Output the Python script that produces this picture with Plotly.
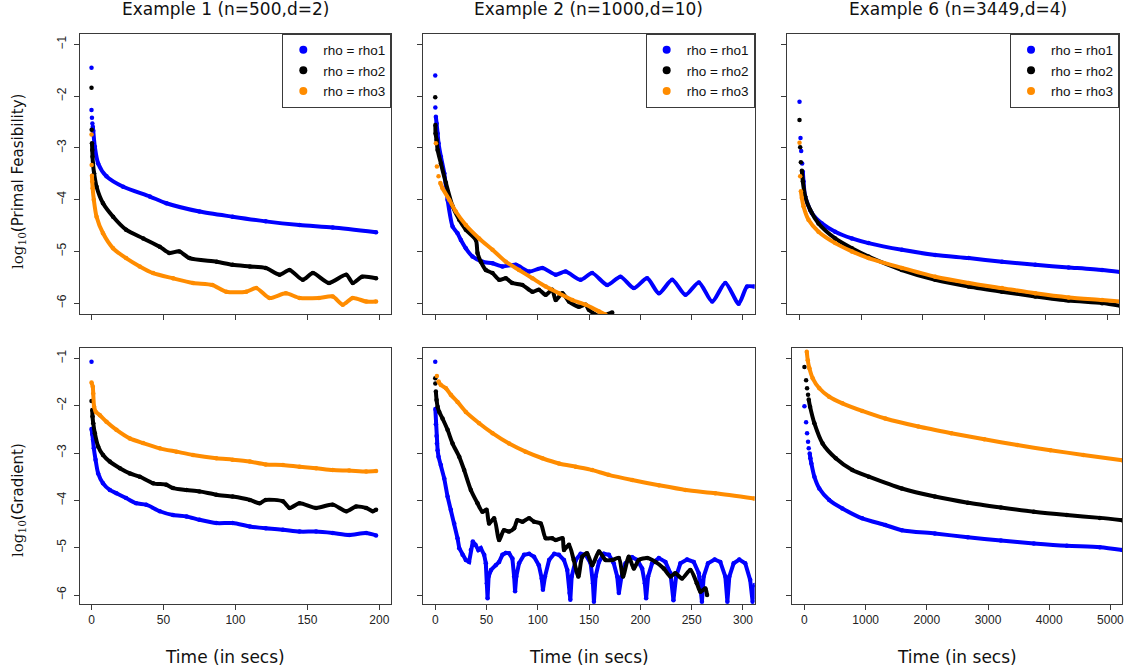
import plotly.graph_objects as go

# ---------------- data ----------------
SERIES = ["rho1", "rho2", "rho3"]
SERIES_LABELS = ["rho = rho1", "rho = rho2", "rho = rho3"]
COLORS = ["#0000FF", "#000000", "#FF8C00"]

PANEL_TITLES = ["Example 1 (n=500,d=2)", "Example 2 (n=1000,d=10)", "Example 6 (n=3449,d=4)"]
ROW_TITLES = ["Primal Feasibility", "Gradient"]
X_TITLE = "Time (in secs)"

Y_TICKS = [-1, -2, -3, -4, -5, -6]
X_TICKS_EX1 = [0, 50, 100, 150, 200]
X_TICKS_EX2 = [0, 50, 100, 150, 200, 250, 300]
X_TICKS_EX6 = [0, 1000, 2000, 3000, 4000, 5000]

# ---- Example 1, primal feasibility
ex1_pf_rho1_t = [0, 0, 0.3, 0.6, 0.9, 1.2, 2.3, 4.6, 10.4, 22, 40.5, 52, 75, 98, 121, 144.5, 167.6, 197.7]
ex1_pf_rho1_v = [-1.45, -2.27, -2.42, -2.53, -2.59, -2.67, -2.98, -3.30, -3.55, -3.75, -3.94, -4.07, -4.23, -4.33, -4.42, -4.49, -4.54, -4.63]
ex1_pf_rho2_t = [0, 0.1, 0.3, 0.5, 0.7, 1.0, 1.8, 3.5, 8, 15, 24, 36, 47.4, 54, 61, 68, 87, 98, 110, 121, 130.6, 137.6, 146.8, 153.8, 165, 177, 181.5, 188, 197.7]
ex1_pf_rho2_v = [-1.84, -2.65, -2.91, -3.04, -3.17, -3.30, -3.49, -3.75, -4.07, -4.33, -4.58, -4.75, -4.91, -5.03, -5.00, -5.13, -5.20, -5.26, -5.29, -5.32, -5.45, -5.36, -5.55, -5.42, -5.61, -5.45, -5.61, -5.49, -5.52]
ex1_pf_rho3_t = [0, 0.1, 0.3, 0.5, 0.8, 1.6, 3.5, 8, 15, 24, 33.5, 42.8, 56.6, 70.5, 84, 93.6, 107.5, 114.5, 123.7, 135, 144.5, 158, 167.6, 174.6, 181.5, 190.8, 197.7]
ex1_pf_rho3_v = [-2.74, -3.33, -3.54, -3.65, -3.78, -4.00, -4.33, -4.65, -4.94, -5.13, -5.29, -5.42, -5.52, -5.61, -5.65, -5.78, -5.78, -5.71, -5.90, -5.81, -5.90, -5.90, -5.87, -6.03, -5.90, -5.97, -5.97]

# ---- Example 2, primal feasibility
ex2_pf_rho1_t = [0, 0.1, 0.6, 1.3, 2.3, 3.2, 5.5, 8.8, 12, 16.9, 21.7, 25, 29.8, 36.3, 46, 55.8, 65.5, 78.5, 91.5, 104.4, 117.4, 127, 141.7, 153, 167.7, 180.6, 193.6, 206.6, 218, 231, 244, 257, 270, 282.8, 295.8, 304, 311]
ex2_pf_rho1_v = [-1.60, -2.22, -2.40, -2.53, -2.72, -2.91, -3.17, -3.49, -4.00, -4.52, -4.65, -4.78, -4.94, -5.10, -5.20, -5.23, -5.29, -5.26, -5.39, -5.32, -5.45, -5.39, -5.55, -5.42, -5.65, -5.49, -5.71, -5.52, -5.81, -5.55, -5.84, -5.60, -5.97, -5.61, -6.01, -5.68, -5.68]
ex2_pf_rho2_t = [0, 0.1, 0.3, 1.3, 2.3, 5.5, 10.4, 16.9, 23.4, 29.8, 39.6, 41.2, 44.4, 49.3, 55.8, 62.3, 68.8, 75, 85, 94.7, 101, 107.7, 114, 117.4, 123.9, 130.4, 140, 146.6, 149.8, 160, 172.5]
ex2_pf_rho2_v = [-2.02, -2.56, -2.72, -2.85, -3.04, -3.30, -3.68, -4.13, -4.39, -4.58, -4.78, -5.03, -5.20, -5.36, -5.42, -5.55, -5.52, -5.61, -5.65, -5.78, -5.74, -5.84, -5.74, -5.94, -5.81, -5.97, -6.07, -6.03, -6.13, -6.25, -6.18]
ex2_pf_rho3_t = [0.6, 1.6, 3.2, 4.9, 7.1, 13.6, 20, 29.8, 42.8, 55.8, 68.8, 81.7, 94.7, 107.7, 120.6, 133.6, 146.6, 159.6, 166]
ex2_pf_rho3_v = [-2.91, -3.36, -3.55, -3.68, -3.78, -4.00, -4.23, -4.49, -4.75, -4.97, -5.20, -5.36, -5.52, -5.68, -5.81, -5.94, -6.03, -6.16, -6.22]

# ---- Example 6, primal feasibility
ex6_pf_rho1_t = [0, 16, 27, 43, 54, 65, 92, 200, 363, 580, 851, 1122, 1665, 2207, 2750, 3292, 3834, 4376, 4919, 5217]
ex6_pf_rho1_v = [-2.11, -2.81, -3.06, -3.30, -3.46, -3.65, -3.94, -4.26, -4.46, -4.62, -4.75, -4.84, -4.97, -5.07, -5.13, -5.20, -5.26, -5.31, -5.36, -5.40]
ex6_pf_rho2_t = [0, 11, 22, 38, 54, 92, 174, 309, 580, 851, 1122, 1665, 2207, 2750, 3292, 3834, 4376, 4919, 5217]
ex6_pf_rho2_v = [-2.46, -2.99, -3.28, -3.44, -3.65, -3.94, -4.20, -4.46, -4.75, -4.94, -5.10, -5.36, -5.55, -5.68, -5.78, -5.87, -5.95, -6.00, -6.05]
ex6_pf_rho3_t = [0, 11, 22, 38, 65, 146, 309, 580, 851, 1122, 1665, 2207, 2750, 3292, 3834, 4376, 4919, 5217]
ex6_pf_rho3_v = [-2.90, -3.55, -3.84, -3.97, -4.13, -4.39, -4.62, -4.84, -5.00, -5.13, -5.32, -5.49, -5.61, -5.71, -5.81, -5.89, -5.94, -5.97]

# ---- Example 1, gradient
ex1_gr_rho1_t = [0, 0, 0.5, 1.0, 1.6, 2.8, 4.6, 8, 12.7, 17.3, 24, 31, 38, 47.4, 56.6, 66, 75, 86.7, 98, 110, 121, 133, 144.5, 156, 167.6, 179, 190.8, 197.7]
ex1_gr_rho1_v = [-1.07, -2.49, -2.60, -2.72, -2.90, -3.14, -3.43, -3.64, -3.78, -3.85, -3.95, -4.06, -4.09, -4.23, -4.31, -4.34, -4.41, -4.48, -4.48, -4.55, -4.59, -4.62, -4.66, -4.66, -4.69, -4.73, -4.69, -4.74]
ex1_gr_rho2_t = [0, 0.5, 0.7, 1.2, 2.3, 4.6, 8, 12.7, 19.7, 26.6, 33.5, 42.8, 52, 56.6, 66, 75, 86.7, 98, 110, 116.8, 121, 133, 137.6, 144.5, 156, 167.6, 177, 183.8, 190.8, 195.4, 197.7]
ex1_gr_rho2_v = [-1.90, -2.09, -2.23, -2.37, -2.58, -2.86, -3.04, -3.18, -3.32, -3.43, -3.50, -3.64, -3.67, -3.74, -3.78, -3.81, -3.88, -3.92, -3.99, -4.06, -3.99, -4.02, -4.16, -4.06, -4.16, -4.09, -4.23, -4.13, -4.16, -4.23, -4.20]
ex1_gr_rho3_t = [0, 0.9, 1.2, 1.8, 3.0, 5.8, 10.4, 17.3, 26.6, 35.8, 47.4, 59, 70.5, 86.7, 98, 110, 121, 133, 144.5, 156, 167.6, 179, 190.8, 197.7]
ex1_gr_rho3_v = [-1.51, -1.60, -1.74, -2.02, -2.13, -2.20, -2.34, -2.51, -2.69, -2.79, -2.90, -2.97, -3.04, -3.11, -3.14, -3.18, -3.24, -3.25, -3.29, -3.32, -3.36, -3.37, -3.39, -3.38]

# ---- Example 2, gradient
ex2_gr_rho1_t = [0, 0.1, 0.6, 1.3, 1.6, 2.3, 3.2, 5.5, 8.8, 12, 15.2, 18.5, 21.7, 23.4, 26.6, 29.8, 33, 34.7, 36.6, 39.2, 42, 44.4, 47.7, 49.3, 50.3, 51,
                 52, 54.4, 59, 62.3, 65.5, 68.8, 72, 75.2, 76.9, 77.8,
                 79, 81.7, 86.6, 91.5, 96.3, 101, 103.8, 105,
                 107, 111, 116, 120.6, 125.5, 128.7, 131, 131.7,
                 133, 137, 141.7, 146.6, 151.5, 153.7, 154.7,
                 156.3, 159.6, 164.4, 169.3, 174, 177.4, 179,
                 181.6, 185.5, 192, 197, 201.7, 204.3, 205.6,
                 207.5, 211.4, 218, 224.4, 229.3, 232.2,
                 234.8, 239, 245.5, 252, 256.9, 260,
                 261.7, 265.9, 272.4, 277.9, 282.8, 284.8,
                 286.7, 290.9, 296.4, 302.2, 307, 309.4, 311.3]
ex2_gr_rho1_v = [-1.07, -2.07, -2.39, -2.64, -2.80, -2.94, -3.08, -3.25, -3.54, -3.92, -4.20, -4.49, -4.80, -5.01, -5.15, -5.26, -5.30, -5.05, -4.87, -4.94, -5.05, -5.01, -5.15, -5.33, -5.75, -6.07,
                 -5.61, -5.47, -5.37, -5.30, -5.15, -5.11, -5.12, -5.23, -5.61, -5.92,
                 -5.61, -5.33, -5.15, -5.13, -5.19, -5.37, -5.65, -5.89,
                 -5.61, -5.26, -5.13, -5.15, -5.26, -5.47, -5.96, -6.10,
                 -5.61, -5.26, -5.13, -5.15, -5.33, -5.75, -6.14,
                 -5.61, -5.30, -5.13, -5.15, -5.33, -5.61, -5.96,
                 -5.61, -5.33, -5.20, -5.26, -5.44, -5.75, -6.07,
                 -5.61, -5.33, -5.22, -5.30, -5.54, -6.11,
                 -5.61, -5.33, -5.25, -5.30, -5.54, -6.14,
                 -5.61, -5.33, -5.25, -5.30, -5.61, -6.14,
                 -5.61, -5.33, -5.25, -5.33, -5.68, -6.14, -5.79]
ex2_gr_rho2_t = [0, 0.1, 0.6, 1.3, 2.3, 3.9, 7.1, 12, 16.9, 23.4, 28.2, 34.7, 41.2, 46, 50, 52.5, 57.4, 62.3, 67, 72, 76.9, 80, 85, 91.5, 96.3, 102.8, 107.7, 114, 117.4, 124, 125.5, 130.4, 135, 139.5, 143.3, 148, 153, 159.6, 166, 172.5, 179, 183, 188.7, 193.6, 198.5, 206.6, 214.7, 222.8, 229.3, 234, 240.6, 248.7, 255, 258.5, 263.3, 265]
ex2_gr_rho2_v = [-1.42, -1.53, -1.70, -1.88, -2.02, -2.13, -2.27, -2.51, -2.80, -3.08, -3.36, -3.78, -4.06, -4.24, -4.20, -4.49, -4.38, -4.84, -4.63, -4.66, -4.59, -4.42, -4.45, -4.38, -4.45, -4.49, -4.80, -4.80, -4.84, -4.80, -5.05, -4.94, -5.26, -5.61, -5.19, -5.12, -5.37, -5.08, -5.26, -5.26, -5.22, -5.61, -5.19, -5.44, -5.26, -5.22, -5.30, -5.44, -5.61, -5.54, -5.65, -5.47, -5.75, -5.93, -5.86, -6.00]
ex2_gr_rho3_t = [1.6, 3.2, 5.5, 10.4, 15.2, 21.7, 29.8, 42.8, 55.8, 72, 88, 104.4, 120.6, 137, 153, 169, 192, 218, 244, 273, 311]
ex2_gr_rho3_v = [-1.37, -1.49, -1.56, -1.63, -1.77, -1.92, -2.13, -2.37, -2.58, -2.80, -2.97, -3.11, -3.22, -3.29, -3.36, -3.46, -3.57, -3.68, -3.78, -3.85, -3.96]

# ---- Example 6, gradient
ex6_gr_rho1_t = [0, 27, 43, 59, 70, 86, 97, 113, 162, 243, 405, 620, 944, 1321, 1591, 2131, 2670, 3210, 3749, 4288, 4828, 5194]
ex6_gr_rho1_v = [-2.01, -2.35, -2.58, -2.76, -2.90, -3.01, -3.11, -3.22, -3.50, -3.75, -3.99, -4.17, -4.38, -4.52, -4.63, -4.70, -4.78, -4.85, -4.91, -4.96, -4.99, -5.05]
ex6_gr_rho2_t = [0, 27, 43, 59, 70, 92, 162, 297, 512, 782, 1052, 1591, 2131, 2670, 3210, 3749, 4288, 4828, 5194]
ex6_gr_rho2_v = [-1.18, -1.46, -1.63, -1.77, -1.87, -2.02, -2.37, -2.80, -3.11, -3.36, -3.50, -3.75, -3.92, -4.05, -4.15, -4.24, -4.31, -4.37, -4.42]
ex6_gr_rho3_t = [38, 54, 81, 135, 243, 405, 620, 944, 1321, 1861, 2400, 2940, 3479, 4019, 4558, 5194]
ex6_gr_rho3_v = [-0.86, -1.04, -1.21, -1.42, -1.63, -1.81, -1.95, -2.11, -2.27, -2.44, -2.58, -2.71, -2.83, -2.94, -3.04, -3.15]

# ---------------- layout / drawing ----------------
W, H = 1132, 672

# panel data: (t, value, number of sparse leading dots, smooth curve?)
panels = [
    [(ex1_pf_rho1_t, ex1_pf_rho1_v, 5, True), (ex1_pf_rho2_t, ex1_pf_rho2_v, 3, True), (ex1_pf_rho3_t, ex1_pf_rho3_v, 3, True)],
    [(ex2_pf_rho1_t, ex2_pf_rho1_v, 3, True), (ex2_pf_rho2_t, ex2_pf_rho2_v, 2, True), (ex2_pf_rho3_t, ex2_pf_rho3_v, 4, True)],
    [(ex6_pf_rho1_t, ex6_pf_rho1_v, 5, True), (ex6_pf_rho2_t, ex6_pf_rho2_v, 4, True), (ex6_pf_rho3_t, ex6_pf_rho3_v, 3, True)],
    [(ex1_gr_rho1_t, ex1_gr_rho1_v, 2, True), (ex1_gr_rho2_t, ex1_gr_rho2_v, 2, True), (ex1_gr_rho3_t, ex1_gr_rho3_v, 1, True)],
    [(ex2_gr_rho1_t, ex2_gr_rho1_v, 2, False), (ex2_gr_rho2_t, ex2_gr_rho2_v, 3, True), (ex2_gr_rho3_t, ex2_gr_rho3_v, 2, True)],
    [(ex6_gr_rho1_t, ex6_gr_rho1_v, 6, True), (ex6_gr_rho2_t, ex6_gr_rho2_v, 5, True), (ex6_gr_rho3_t, ex6_gr_rho3_v, 1, True)],
]

# pixel boxes (left, right, top, bottom) of each panel
boxes = [
    (80, 392, 33.5, 314), (424, 756, 33.5, 314), (788.3, 1121, 33.5, 314),
    (80, 392, 348, 604), (424, 756, 348, 604), (793.3, 1124.3, 348, 604),
]
x_ranges = [[-8.1, 208.3], [-11.7, 311.4], [-205, 5195]] * 2
x_ticks = [X_TICKS_EX1, X_TICKS_EX2, X_TICKS_EX6] * 2
y_ranges = [[-6.21, -0.79]] * 3 + [[-6.19, -0.78]] * 3

fig = go.Figure()
FRAME = "#3a3a3a"
TICKFONT = dict(family="Liberation Sans, Arial, sans-serif", size=12, color="#222")

for p in range(6):
    xa = "x" if p == 0 else f"x{p+1}"
    ya = "y" if p == 0 else f"y{p+1}"
    for s, (t, v, head, smooth) in enumerate(panels[p]):
        col = COLORS[s]
        k = max(head - 1, 0)
        line = dict(color=col, width=4)
        if smooth:
            line.update(shape="spline", smoothing=0.7)
        fig.add_trace(go.Scatter(
            x=t[k:], y=v[k:], mode="lines", line=line, xaxis=xa, yaxis=ya,
            showlegend=False, hoverinfo="skip"))
        fig.add_trace(go.Scatter(
            x=t, y=v, mode="markers", marker=dict(color=col, size=4.5),
            xaxis=xa, yaxis=ya, showlegend=False, name=SERIES_LABELS[s]))
    if p < 3:
        lg = "legend" if p == 0 else f"legend{p+1}"
        for s in range(3):
            fig.add_trace(go.Scatter(
                x=[None], y=[None], mode="markers", name=SERIES_LABELS[s],
                marker=dict(color=COLORS[s], size=8), xaxis=xa, yaxis=ya,
                legend=lg, showlegend=True))

layout = dict(
    width=W, height=H, paper_bgcolor="white", plot_bgcolor="white",
    margin=dict(l=0, r=0, t=0, b=0), showlegend=True,
)
for p in range(6):
    l, r, t, b = boxes[p]
    key = "" if p == 0 else str(p + 1)
    bottom_row = p >= 3
    left_col = p % 3 == 0
    layout["xaxis" + key] = dict(
        domain=[l / W, r / W], range=x_ranges[p], anchor="y" + key,
        tickvals=x_ticks[p], showticklabels=bottom_row, ticks="outside", ticklen=5,
        tickcolor=FRAME, showline=True, linecolor=FRAME, linewidth=1, mirror=True,
        showgrid=False, zeroline=False, tickfont=TICKFONT,
    )
    layout["yaxis" + key] = dict(
        domain=[1 - b / H, 1 - t / H], range=y_ranges[p], anchor="x" + key,
        tickvals=Y_TICKS, showticklabels=left_col, tickangle=-90, ticks="outside",
        ticklen=5, tickcolor=FRAME, showline=True, linecolor=FRAME, linewidth=1,
        mirror=True, showgrid=False, zeroline=False, tickfont=TICKFONT,
        ticklabelstandoff=3,
    )

legend_right = [392, 756, 1121]
for i in range(3):
    key = "legend" if i == 0 else f"legend{i+1}"
    layout[key] = dict(
        x=legend_right[i] / W, xanchor="right", y=1 - 33.5 / H, yanchor="top",
        bgcolor="white", bordercolor=FRAME, borderwidth=1,
        font=dict(family="Liberation Sans, Arial, sans-serif", size=13.5, color="#111"),
        itemwidth=30, tracegroupgap=0,
    )

annotations = []
title_cx = [225.6, 590, 960]
for i in range(3):
    annotations.append(dict(
        text=PANEL_TITLES[i], x=title_cx[i] / W, y=1 - 9 / H, xref="paper", yref="paper",
        xanchor="center", yanchor="middle", showarrow=False,
        font=dict(family="DejaVu Sans, sans-serif", size=17, color="#111")))
xt_cx = [225.6, 590, 959]
for i in range(3):
    annotations.append(dict(
        text=X_TITLE, x=xt_cx[i] / W, y=1 - 657 / H, xref="paper", yref="paper",
        xanchor="center", yanchor="middle", showarrow=False,
        font=dict(family="DejaVu Sans, sans-serif", size=17, color="#111")))
row_cy = [181, 500]
for i in range(2):
    label = ("<span style='font-family:DejaVu Serif, serif'>log<sub>10</sub></span>("
             + ROW_TITLES[i] + ")")
    annotations.append(dict(
        text=label, x=18 / W, y=1 - row_cy[i] / H, xref="paper", yref="paper",
        xanchor="center", yanchor="middle", showarrow=False, textangle=-90,
        font=dict(family="DejaVu Sans, sans-serif", size=15, color="#111")))
layout["annotations"] = annotations

fig.update_layout(**layout)
fig.write_html("out.html", config={"displayModeBar": False},
               post_script="document.body.style.margin='0px';")
